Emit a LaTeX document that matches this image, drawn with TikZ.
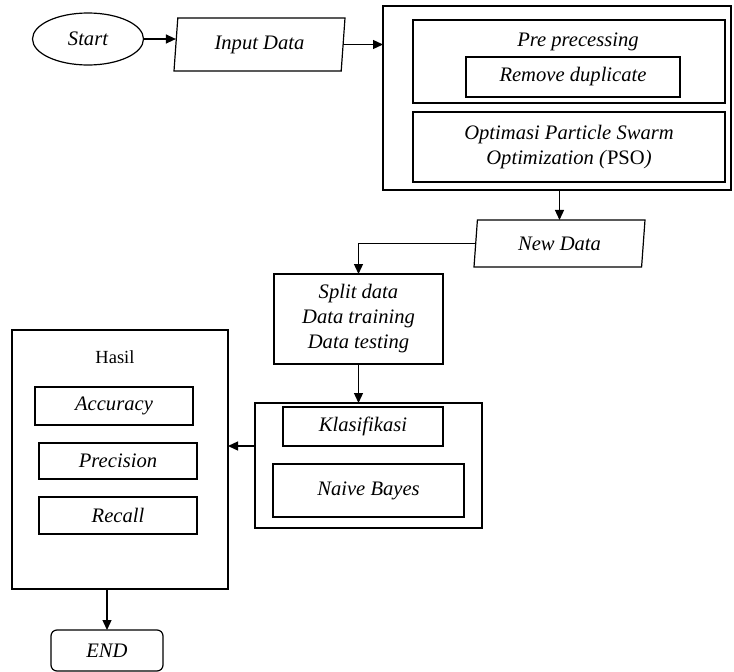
\documentclass[tikz,border=0pt]{standalone}
\usepackage{fontspec}
\setmainfont{Liberation Serif}
\usetikzlibrary{shapes.geometric,arrows.meta}
\begin{document}
\begin{tikzpicture}[x=1pt,y=-1pt,
  box/.style={draw,rectangle,inner sep=0pt,outer sep=0pt,line width=1.2pt,align=center,
    font=\fontsize{20.6}{25}\selectfont\itshape},
  para/.style={draw,trapezium,trapezium stretches body,inner sep=0pt,outer sep=0pt,line width=1.2pt,
    font=\fontsize{20.6}{25}\selectfont\itshape},
  txt/.style={inner sep=0pt,font=\fontsize{20.6}{25}\selectfont\itshape},
  arr/.style={line width=1.3pt,-{Triangle[length=10pt,width=9pt]}}]
\useasboundingbox (0,0) rectangle (734,672);
% top row
\node[draw,ellipse,line width=1.2pt,inner sep=0pt,minimum width=111,minimum height=52,
  font=\fontsize{20.6}{25}\selectfont\itshape] (start) at (88,39) {Start};
\node[para,trapezium left angle=78,trapezium right angle=102,minimum width=171,minimum height=53]
  (in) at (259.5,44.5) {Input Data};
\node[box,minimum width=348,minimum height=184] (big) at (557,98) {};
\node[box,minimum width=312,minimum height=83] (pre) at (569,61.5) {};
\node[txt] (pretxt) at (578,42) {Pre precessing};
\node[box,minimum width=214,minimum height=40] (dup) at (573,77) {Remove duplicate};
\node[box,minimum width=312,minimum height=70] (pso) at (569,147) {Optimasi Particle Swarm\\Optimization (\textup{PSO})};
% new data
\node[para,trapezium left angle=76,trapezium right angle=104,minimum width=171,minimum height=47]
  (nd) at (559.5,243.5) {New Data};
% split
\node[box,minimum width=169,minimum height=90] (split) at (358.5,319) {Split data\\Data training\\Data testing};
% klasifikasi
\node[box,minimum width=227,minimum height=125] (kout) at (368.5,465.5) {};
\node[box,minimum width=160,minimum height=39] (klas) at (363,426.5) {Klasifikasi};
\node[box,minimum width=191,minimum height=53] (nb) at (368.5,490.5) {Naive Bayes};
% hasil
\node[box,minimum width=216,minimum height=259] (hasil) at (120,459.5) {};
\node[inner sep=0pt,font=\fontsize{18.5}{22}\selectfont] (hasiltxt) at (115,357) {Hasil};
\node[box,minimum width=158,minimum height=38] (acc) at (114,406) {Accuracy};
\node[box,minimum width=158,minimum height=36] (prec) at (118,461) {Precision};
\node[box,minimum width=158,minimum height=37] (rec) at (118,515.5) {Recall};
% end
\node[box,rounded corners=6pt,minimum width=112,minimum height=41] (end) at (107,650.5) {END};
% connectors
\draw[arr] (start.east) -- (start.east -| in.west);
\draw[arr] (in.east) -- (in.east -| big.west);
\draw[arr] (nd.north |- big.south) -- (nd.north);
\draw[arr] (nd.west) -| (split.north);
\draw[arr] (split.south) -- (split.south |- kout.north);
\draw[arr] (kout.west |- klas.south) -- (hasil.east |- klas.south);
\draw[arr] (hasil.south -| end.north) -- (end.north);
\end{tikzpicture}
\end{document}
